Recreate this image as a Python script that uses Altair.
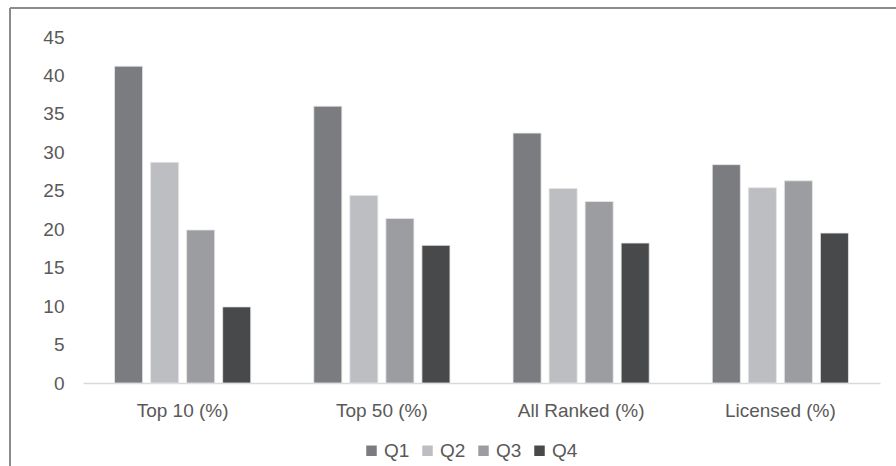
import altair as alt
import pandas as pd

categories = ["Top 10 (%)", "Top 50 (%)", "All Ranked (%)", "Licensed (%)"]
quarters = ["Q1", "Q2", "Q3", "Q4"]
q1 = [41.2, 36.0, 32.5, 28.4]
q2 = [28.7, 24.4, 25.3, 25.4]
q3 = [19.9, 21.4, 23.6, 26.3]
q4 = [9.9, 17.9, 18.2, 19.5]
colors = ["#7b7c80", "#bdbec1", "#9c9da1", "#48494b"]

rows = []
for series_name, vals in zip(quarters, [q1, q2, q3, q4]):
    for c, v in zip(categories, vals):
        rows.append({"category": c, "quarter": series_name, "value": v})
df = pd.DataFrame(rows)

FONT = "Liberation Sans"
TXT = "#595959"
FS = 19

bars = alt.Chart(df).mark_bar(stroke="#e6e6e6", strokeWidth=0.8).encode(
    x=alt.X("category:N", sort=categories, title=None,
            scale=alt.Scale(paddingInner=0, paddingOuter=0),
            axis=alt.Axis(labelAngle=0, labelFont=FONT, labelFontSize=FS,
                          labelColor=TXT, labelPadding=18, ticks=False,
                          domainColor="#d9d9d9", domainWidth=1.5)),
    xOffset=alt.XOffset("quarter:N", sort=quarters,
                        scale=alt.Scale(paddingInner=0.222, paddingOuter=0.875)),
    y=alt.Y("value:Q", title=None,
            scale=alt.Scale(domain=[0, 45], nice=False),
            axis=alt.Axis(values=list(range(0, 50, 5)), grid=False, domain=False,
                          ticks=False, labelFont=FONT, labelFontSize=FS,
                          labelColor=TXT, labelPadding=19)),
    color=alt.Color("quarter:N", sort=quarters,
                    scale=alt.Scale(domain=quarters, range=colors),
                    legend=alt.Legend(title=None, orient="none", direction="horizontal",
                                      legendX=279, legendY=404,
                                      symbolType="square", symbolSize=110,
                                      symbolStrokeWidth=0, labelFont=FONT,
                                      labelFontSize=FS, labelColor=TXT,
                                      labelOffset=3, columnPadding=8)),
)

frame_top = alt.Chart(df).mark_rule(color="#8c8c8c", strokeWidth=1.2).encode(
    x=alt.value(-73), x2=alt.value(830), y=alt.value(-29)
)
frame_left = alt.Chart(df).mark_rule(color="#8c8c8c", strokeWidth=1.2).encode(
    x=alt.value(-73), y=alt.value(-29), y2=alt.value(460)
)

chart = alt.layer(bars, frame_top, frame_left).properties(
    width=797, height=346,
    autosize=alt.AutoSizeParams(type="none"),
    padding={"left": 83, "top": 37, "right": 16, "bottom": 83},
    background="white",
).configure_view(stroke=None)

chart.save("out.html", embed_options={"renderer": "svg", "actions": False})
